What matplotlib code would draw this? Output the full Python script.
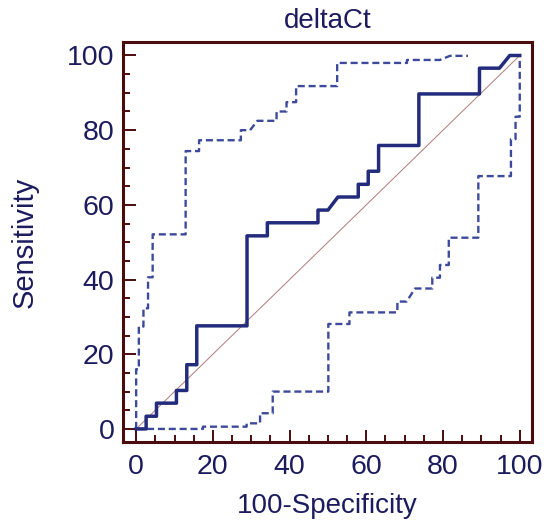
import matplotlib
matplotlib.use("Agg")
import matplotlib.pyplot as plt
from matplotlib.ticker import MultipleLocator

# ── Data ─────────────────────────────────────────────────────────────────
roc_x = [0, 2.6, 2.6, 5.3, 5.3, 10.5, 10.5, 13.2, 13.2, 15.8, 15.8, 28.9, 28.9,
         34.2, 34.2, 47.4, 47.4, 50.0, 52.6, 57.9, 57.9, 60.5, 60.5, 63.2, 63.2,
         73.7, 73.7, 89.5, 89.5, 94.7, 97.4, 100]
roc_y = [0, 0, 3.4, 3.4, 6.9, 6.9, 10.3, 10.3, 17.2, 17.2, 27.6, 27.6, 51.7,
         51.7, 55.2, 55.2, 58.6, 58.6, 62.1, 62.1, 65.5, 65.5, 69.0, 69.0, 75.9,
         75.9, 89.7, 89.7, 96.6, 96.6, 100, 100]

upper_x = [0, 0, 0.7, 0.7, 1.9, 1.9, 3.1, 3.1, 4.3, 4.3, 12.9, 12.9, 16.4, 16.4,
           27.3, 27.3, 29.7, 31.6, 36.6, 36.6, 39.2, 39.2, 41.7, 41.7, 52.4,
           52.4, 70.6, 70.6, 79.2, 81.8, 86.5]
upper_y = [0, 16.0, 16.0, 27.4, 27.4, 32.3, 32.3, 40.6, 40.6, 52.1, 52.1, 74.4,
           74.4, 77.3, 77.3, 80.0, 80.0, 82.5, 82.5, 85.0, 85.0, 87.5, 87.5,
           91.8, 91.8, 98.0, 98.0, 98.8, 98.8, 99.9, 99.9]

lower_x = [0, 17.4, 17.4, 28.8, 28.8, 32.3, 32.3, 35.6, 35.6, 50.1, 50.1, 55.6,
           55.6, 68.1, 68.1, 70.5, 72.7, 77.2, 77.2, 79.2, 79.2, 81.5, 81.5,
           89.2, 89.2, 97.7, 97.7, 98.9, 98.9, 100, 100]
lower_y = [0, 0, 0.6, 0.6, 1.5, 1.5, 4.2, 4.2, 10.0, 10.0, 28.1, 28.1, 31.2,
           31.2, 34.1, 34.1, 37.6, 37.6, 40.5, 40.5, 43.9, 43.9, 51.2, 51.2,
           67.7, 67.7, 77.6, 77.6, 83.6, 83.6, 100]

ref_line = [0, 100]

TEXT = "#1b1b5e"
FRAME = "#4a0c0c"
ROC = "#232c7c"
CI = "#3d4a9c"

plt.rcParams["font.family"] = ["Liberation Sans", "DejaVu Sans"]

fig = plt.figure(figsize=(5.44, 5.24), dpi=100)
ax = fig.add_axes([0.2256, 0.1565, 0.7524, 0.7633])

ax.plot(ref_line, ref_line, color="#b07a78", lw=0.7, zorder=2)
ax.plot(upper_x, upper_y, color=CI, lw=1.7, ls=(0, (3, 1.6)), zorder=3)
ax.plot(lower_x, lower_y, color=CI, lw=1.7, ls=(0, (3, 1.6)), zorder=3)
ax.plot(roc_x, roc_y, color=ROC, lw=2.5, zorder=4)

ax.set_xlim(-3.5, 103.2)
ax.set_ylim(-3.5, 103.6)

ax.xaxis.set_major_locator(MultipleLocator(20))
ax.yaxis.set_major_locator(MultipleLocator(20))
ax.xaxis.set_minor_locator(MultipleLocator(5))
ax.yaxis.set_minor_locator(MultipleLocator(5))
ax.tick_params(which="both", direction="in", color=FRAME, width=1.4,
               labelcolor=TEXT, labelsize=20.5)
ax.tick_params(axis="x", which="major", length=9, pad=9)
ax.tick_params(axis="y", which="major", length=9, pad=6)
ax.tick_params(which="minor", length=5)

for s in ax.spines.values():
    s.set_color(FRAME)
    s.set_linewidth(2.2)

ax.set_title("deltaCt", color=TEXT, fontsize=20, pad=10)
ax.set_xlabel("100-Specificity", color=TEXT, fontsize=20, labelpad=9)
ax.set_ylabel("Sensitivity", color=TEXT, fontsize=21, labelpad=20)

fig.savefig("out.png", dpi=100)
plt.close(fig)
